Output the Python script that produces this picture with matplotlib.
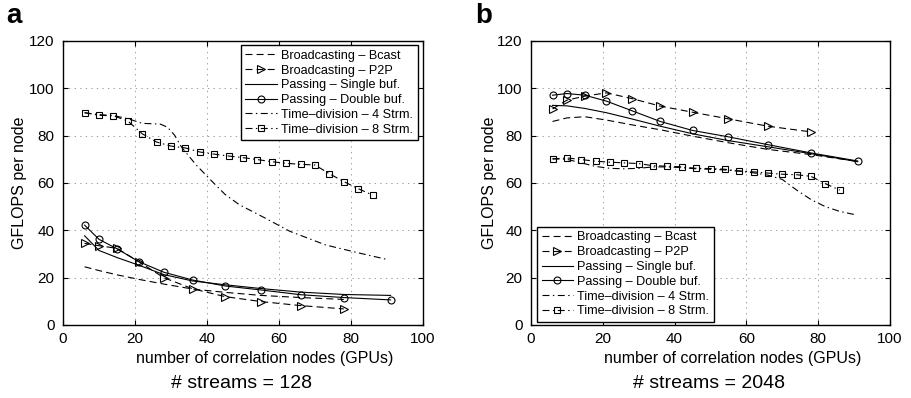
import numpy as np
import matplotlib
matplotlib.use('Agg')
import matplotlib.pyplot as plt

plt.rcParams['font.family'] = ['Liberation Sans', 'DejaVu Sans']
plt.rcParams['lines.scale_dashes'] = False

# Anzahl Knoten (Dreieckszahlen) und Messwerte
nodes = [6, 10, 15, 21, 28, 36, 45, 55, 66, 78, 91]
nodes_p2p = nodes[:10]
nodes_td = [6, 10, 14, 18, 22, 26, 30, 34, 38, 42, 46, 50, 54, 58, 62, 66, 70, 74, 78, 82, 86]

# Panel a: # streams = 128
a_bcast_x = nodes[:10]
a_bcast = [24.6, 23.0, 21.2, 19.3, 17.3, 15.2, 13.8, 12.5, 11.6, 10.8]
a_p2p = [34.5, 33.5, 32.4, 26.8, 20.0, 15.3, 12.0, 9.9, 8.2, 6.8]
a_single = [37.7, 31.5, 28.5, 25.3, 21.3, 18.6, 17.0, 15.4, 13.9, 12.9, 12.5]
a_double = [42.2, 36.2, 32.2, 26.8, 22.3, 19.0, 16.5, 14.8, 12.8, 11.6, 10.6]
a_td4_x = [6, 10, 14, 18, 22, 27, 29, 31, 33, 37, 41, 45, 49, 56, 63, 73, 82, 90]
a_td4 = [89.7, 88.9, 88.5, 87.2, 85.2, 84.9, 83.6, 80.2, 75.0, 67.6, 61.3, 55.2, 50.8, 45.3, 39.6, 33.8, 30.5, 27.7]
a_td8 = [89.7, 88.6, 88.4, 86.2, 80.8, 77.3, 75.6, 74.8, 73.1, 72.2, 71.4, 70.7,
         69.9, 69.0, 68.3, 67.9, 67.6, 63.9, 60.6, 57.6, 54.9]

# Panel b: # streams = 2048
b_bcast_x = nodes
b_bcast = [86.0, 87.5, 88.0, 86.6, 84.6, 82.5, 79.8, 77.0, 74.2, 72.0, 69.1]
b_p2p = [91.3, 95.0, 96.7, 98.1, 95.7, 92.5, 89.9, 87.1, 84.0, 81.6]
b_single = [92.8, 92.6, 91.5, 89.7, 87.1, 84.0, 80.8, 77.9, 75.3, 72.4, 69.0]
b_double = [97.1, 97.8, 97.1, 94.6, 90.6, 86.0, 82.2, 79.5, 76.2, 72.7, 69.3]
b_td4_x = [6, 10, 14, 18, 22, 26, 30, 34, 38, 42, 46, 50, 54, 58, 62, 66, 70, 74, 78, 82, 86, 90]
b_td4 = [70.2, 70.0, 68.5, 67.0, 66.2, 66.0, 66.2, 66.8, 66.8, 66.5, 66.0, 65.8,
         65.5, 65.0, 64.3, 63.3, 61.5, 57.0, 53.0, 50.0, 48.0, 46.7]
b_td8 = [70.2, 70.6, 69.9, 69.2, 68.8, 68.5, 68.2, 67.3, 67.1, 66.8, 66.2, 66.1,
         65.8, 65.1, 64.7, 64.2, 63.7, 63.5, 62.8, 59.7, 57.0]

labels = ['Broadcasting – Bcast', 'Broadcasting – P2P', 'Passing – Single buf.',
          'Passing – Double buf.', 'Time–division – 4 Strm.', 'Time–division – 8 Strm.']

W, H = 911, 398
fig = plt.figure(figsize=(W / 100, H / 100), dpi=100)

lw = 0.8
dash = (0, (5, 3))
dashdot = (0, (5, 2.5, 1, 2.5))


def panel(ax, bcx, bc, p2p, single, double, td4x, td4, td8, legloc, anchor):
    ax.plot(bcx, bc, color='k', lw=lw, linestyle=dash, label=labels[0])
    ax.plot(nodes_p2p, p2p, color='k', lw=lw, linestyle=dash, marker='>', ms=5.5,
            mfc='none', mew=0.8, label=labels[1])
    ax.plot(nodes, single, color='k', lw=lw, label=labels[2])
    ax.plot(nodes, double, color='k', lw=lw, marker='o', ms=5, mfc='none',
            mew=0.8, label=labels[3])
    ax.plot(td4x, td4, color='k', lw=lw, linestyle=dashdot, label=labels[4])
    ax.plot(nodes_td, td8, color='k', lw=lw, linestyle=dashdot, marker='s', ms=4.3,
            mfc='none', mew=0.8, label=labels[5])
    ax.set_xlim(0, 100)
    ax.set_ylim(0, 120)
    ax.set_xticks(range(0, 101, 20))
    ax.set_yticks(range(0, 121, 20))
    ax.grid(True, color='#a0a0a0', linestyle=(0, (1, 3)), lw=0.7)
    ax.tick_params(direction='in', top=True, right=True, length=3.5, width=0.8,
                   labelsize=11)
    ax.tick_params(axis='x', pad=5)
    ax.tick_params(axis='y', pad=6)
    for s in ax.spines.values():
        s.set_linewidth(1.0)
    leg = ax.legend(loc=legloc, bbox_to_anchor=anchor, borderaxespad=0,
                    fontsize=9.1, handlelength=2.5, handletextpad=0.33,
                    labelspacing=0.22, borderpad=0.38, fancybox=False,
                    framealpha=1, edgecolor='k')
    leg.get_frame().set_linewidth(1.0)


ax_a = fig.add_axes([63 / W, 73 / H, 360 / W, 284 / H])
panel(ax_a, a_bcast_x, a_bcast, a_p2p, a_single, a_double, a_td4_x, a_td4, a_td8,
      'upper right', (0.986, 0.986))

ax_b = fig.add_axes([531 / W, 73 / H, 359 / W, 284 / H])
panel(ax_b, b_bcast_x, b_bcast, b_p2p, b_single, b_double, b_td4_x, b_td4, b_td8,
      'lower left', (0.016, 0.01))


def ftext(x, y, s, **kw):
    fig.text(x / W, 1 - y / H, s, **kw)


for cx, yl, lab, xl, st in [(0, 20, 'a', 265, '# streams = 128'),
                            (470, 489, 'b', 733, '# streams = 2048')]:
    ftext(cx + 14, 16, lab, fontsize=20, fontweight='bold', ha='center', va='center')
    ftext(yl, 183, 'GFLOPS per node', fontsize=11.5, rotation=90, ha='center', va='center')
    ftext(xl, 358, 'number of correlation nodes (GPUs)', fontsize=11.5, ha='center', va='center')
    ftext(xl - 24, 384, st, fontsize=14, ha='center', va='center')

fig.savefig('out.png', dpi=100)
